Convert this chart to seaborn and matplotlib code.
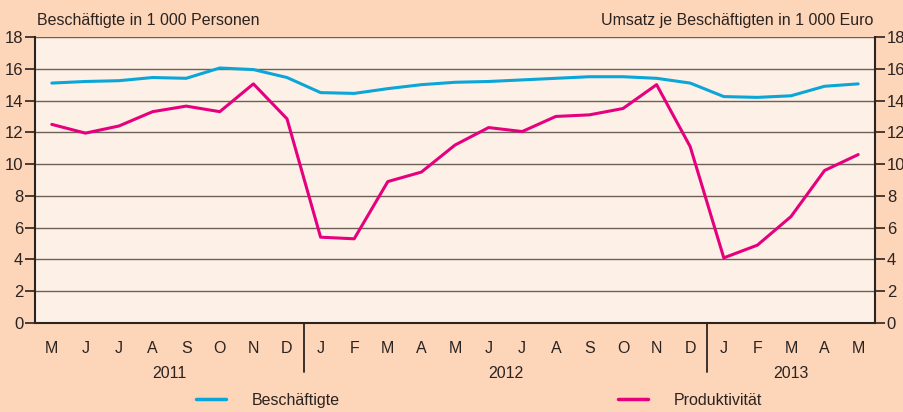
import matplotlib
matplotlib.use("Agg")
import matplotlib.pyplot as plt
import pandas as pd
import seaborn as sns
from matplotlib.lines import Line2D

# Monthly values, May 2011 - May 2013
months = ["M", "J", "J", "A", "S", "O", "N", "D",
          "J", "F", "M", "A", "M", "J", "J", "A", "S", "O", "N", "D",
          "J", "F", "M", "A", "M"]
years = ["2011", "2012", "2013"]
year_lengths = [8, 12, 5]

beschaeftigte = [15.1, 15.2, 15.25, 15.45, 15.4, 16.05, 15.95, 15.45,
                 14.5, 14.45, 14.75, 15.0, 15.15, 15.2, 15.3, 15.4, 15.5, 15.5, 15.4, 15.1,
                 14.25, 14.2, 14.3, 14.9, 15.05]
produktivitaet = [12.5, 11.95, 12.4, 13.3, 13.65, 13.3, 15.05, 12.85,
                  5.4, 5.3, 8.9, 9.5, 11.2, 12.3, 12.05, 13.0, 13.1, 13.5, 15.0, 11.1,
                  4.1, 4.9, 6.7, 9.6, 10.6]

series_names = ["Beschäftigte", "Produktivität"]
colors = {"Beschäftigte": "#0aa6d8", "Produktivität": "#e6007e"}

outer_bg = "#fdd5b9"
inner_bg = "#fdf0e6"
dark = "#2b2320"
grid_col = "#6e5f57"
fs = 11.5

sns.set_theme(style="white")
plt.rcParams["font.family"] = ["Liberation Sans", "DejaVu Sans"]

df = pd.DataFrame({
    "idx": list(range(len(months))) * 2,
    "wert": beschaeftigte + produktivitaet,
    "reihe": [series_names[0]] * len(months) + [series_names[1]] * len(months),
})

fig = plt.figure(figsize=(9.04, 4.12), dpi=100, facecolor=outer_bg)
ax = fig.add_axes([35 / 904, 1 - 323 / 412, 840 / 904, 286 / 412])
ax.set_facecolor(inner_bg)

sns.lineplot(data=df, x="idx", y="wert", hue="reihe", palette=colors,
             linewidth=2.2, ax=ax, legend=False, zorder=3)

ax.set_xlim(-0.5, len(months) - 0.5)
ax.set_ylim(0, 18)
ax.set_yticks(range(0, 19, 2))
ax.yaxis.grid(True, color=grid_col, linewidth=1.0)
ax.set_axisbelow(True)
ax.set_xlabel("")
ax.set_ylabel("")

ax.set_xticks(range(len(months)))
ax.set_xticklabels(months)
ax.tick_params(axis="x", length=0, pad=13, labelsize=fs, colors=dark)
ax.tick_params(axis="y", left=True, length=7, width=1.2, color=dark,
               labelsize=12, labelcolor=dark, pad=1.5)

for side in ["left", "right", "bottom"]:
    ax.spines[side].set_visible(True)
    ax.spines[side].set_color(dark)
    ax.spines[side].set_linewidth(1.5)
ax.spines["top"].set_visible(False)

ax2 = ax.twinx()
ax2.set_ylim(0, 18)
ax2.set_yticks(range(0, 19, 2))
ax2.tick_params(axis="y", right=True, length=7, width=1.2, color=dark,
                labelsize=12, labelcolor=dark, pad=1.5)
for s in ax2.spines.values():
    s.set_visible(False)
ax2.grid(False)

# year separators and labels
start = 0
for i, (yr, n) in enumerate(zip(years, year_lengths)):
    center = start + (n - 1) / 2
    ax.text(center, -0.176, yr, transform=ax.get_xaxis_transform(),
            ha="center", va="center", fontsize=fs, color=dark)
    if i < len(years) - 1:
        ax.axvline(start + n - 0.5, ymin=-0.17, ymax=0, color=dark,
                   linewidth=1.3, clip_on=False)
    start += n

fig.text(37 / 904, 1 - 20 / 412, "Beschäftigte in 1 000 Personen",
         ha="left", va="center", fontsize=fs, color=dark)
fig.text(873 / 904, 1 - 20 / 412, "Umsatz je Beschäftigten in 1 000 Euro",
         ha="right", va="center", fontsize=fs, color=dark)

handles = [Line2D([], [], color=colors[n], linewidth=2.5) for n in series_names]
fig.legend(handles, series_names, ncol=2, loc="center",
           bbox_to_anchor=(0.53, 0.028), frameon=False, fontsize=fs,
           handlelength=1.9, handletextpad=1.6, columnspacing=17.4,
           labelcolor=dark)

fig.savefig("out.png", dpi=100, facecolor=outer_bg)
